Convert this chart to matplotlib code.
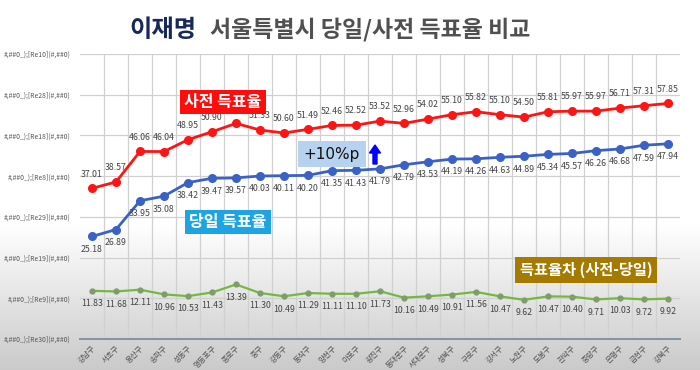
import numpy as np
import matplotlib
matplotlib.use("Agg")
import matplotlib.pyplot as plt

plt.rcParams["font.family"] = ["Noto Sans CJK KR", "DejaVu Sans"]

# 데이터
districts = ["강남구", "서초구", "용산구", "송파구", "성동구", "영등포구", "종로구", "중구",
             "강동구", "동작구", "양천구", "마포구", "광진구", "동대문구", "서대문구", "성북구",
             "구로구", "강서구", "노원구", "도봉구", "관악구", "중랑구", "은평구", "금천구", "강북구"]
early = [37.01, 38.57, 46.06, 46.04, 48.95, 50.90, 52.96, 51.33, 50.60, 51.49, 52.46, 52.52,
         53.52, 52.96, 54.02, 55.10, 55.82, 55.10, 54.50, 55.81, 55.97, 55.97, 56.71, 57.31, 57.85]
sameday = [25.18, 26.89, 33.95, 35.08, 38.42, 39.47, 39.57, 40.03, 40.11, 40.20, 41.35, 41.43,
           41.79, 42.79, 43.53, 44.19, 44.26, 44.63, 44.89, 45.34, 45.57, 46.26, 46.68, 47.59, 47.94]
diff = [11.83, 11.68, 12.11, 10.96, 10.53, 11.43, 13.39, 11.30, 10.49, 11.29, 11.11, 11.10,
        11.73, 10.16, 10.49, 10.91, 11.56, 10.47, 9.62, 10.47, 10.40, 9.71, 10.03, 9.72, 9.92]
y_ticks = [0, 10, 20, 30, 40, 50, 60, 70]
y_tick_labels = ["#,##0_);[Re30](#,##0)", "#,##0_);[Re9](#,##0)", "#,##0_);[Re19](#,##0)",
                 "#,##0_);[Re29](#,##0)", "#,##0_);[Re8](#,##0)", "#,##0_);[Re18](#,##0)",
                 "#,##0_);[Re28](#,##0)", "#,##0_);[Re10](#,##0)"]

W, H = 700, 370
fig = plt.figure(figsize=(7, 3.7), dpi=100)

# 배경 (아래쪽 회색 그라데이션)
bg = fig.add_axes([0, 0, 1, 1], zorder=-10)
rows = np.linspace(0, 1, 370)
shade = np.where(rows < 0.6, 1.0, 1.0 - (rows - 0.6) / 0.4 * 0.21)
bg.imshow(shade[:, None], cmap="gray", vmin=0, vmax=1, aspect="auto", extent=[0, 1, 0, 1])
bg.axis("off")

ax = fig.add_axes([80 / W, 31 / H, 600 / W, 285 / H])
ax.set_facecolor("none")
x = np.arange(len(districts))

ax.plot(x, early, color="#ff1414", lw=2, marker="o", ms=5.5, zorder=5)
ax.plot(x, sameday, color="#3a62c6", lw=2, marker="o", ms=5.5, zorder=5)
ax.plot(x, diff, color="#74b842", lw=1.6, marker="o", ms=3.5,
        mfc="#7f9c6c", mec="#7f9c6c", zorder=5)

lab_kw = dict(fontsize=6.3, color="#444444", ha="center", zorder=6)
for i in x:
    ax.annotate(f"{early[i]:.2f}", (i, early[i]), xytext=(0, 7), textcoords="offset points",
                va="bottom", **lab_kw)
    ax.annotate(f"{sameday[i]:.2f}", (i, sameday[i]), xytext=(0, -6), textcoords="offset points",
                va="top", **lab_kw)
    ax.annotate(f"{diff[i]:.2f}", (i, diff[i]), xytext=(0, -6), textcoords="offset points",
                va="top", **lab_kw)

ax.set_xlim(-0.5, len(districts) - 0.5)
ax.set_ylim(0, 70)
ax.set_yticks(y_ticks)
ax.set_yticklabels(y_tick_labels, fontsize=4.9, color="#555555")
ax.set_xticks(x)
ax.set_xticklabels(districts, rotation=45, ha="right", rotation_mode="anchor",
                   fontsize=5.5, color="#555555")
ax.set_xticks(np.arange(0.5, len(districts) - 0.5, 1), minor=True)
ax.tick_params(axis="both", which="both", length=0)
ax.tick_params(axis="x", pad=4)
ax.tick_params(axis="y", pad=7)
ax.grid(axis="y", which="major", color="#d0d0d0", lw=0.9)
ax.grid(axis="x", which="minor", color="#d0d0d0", lw=0.9)
for s in ["top", "right", "left"]:
    ax.spines[s].set_visible(False)
ax.spines["bottom"].set_color("#7f93aa")
ax.spines["bottom"].set_linewidth(1.4)

# 제목
fig.text(196 / W, 1 - 30 / H, "이재명", fontsize=17.5, fontweight="bold", color="#16295a",
         ha="right", va="center")
fig.text(210 / W, 1 - 30 / H, "서울특별시 당일/사전 득표율 비교", fontsize=16.5, fontweight="bold",
         color="#505050", ha="left", va="center")

# 설명 상자
fig.text(223 / W, 1 - 102 / H, "사전 득표율", fontsize=11.5, fontweight="bold", color="white",
         ha="center", va="center", zorder=10,
         bbox=dict(boxstyle="square,pad=0.25", fc="#ff0d0d", ec="none"))
fig.text(228 / W, 1 - 222 / H, "당일 득표율", fontsize=11.5, fontweight="bold", color="white",
         ha="center", va="center", zorder=10,
         bbox=dict(boxstyle="square,pad=0.25", fc="#1ea3e3", ec="none"))
fig.text(332 / W, 1 - 154 / H, "+10%p", fontsize=11, color="#111111",
         ha="center", va="center", family=["DejaVu Sans"], zorder=10,
         bbox=dict(boxstyle="square,pad=0.35", fc="#b7d2ee", ec="none"))
fig.add_artist(matplotlib.patches.FancyArrow(375 / W, 1 - 164 / H, 0, 19 / H, width=4 / W,
                                             head_width=11 / W, head_length=8 / H,
                                             length_includes_head=True, color="#0000ff",
                                             transform=fig.transFigure))
fig.text(586 / W, 1 - 270 / H, "득표율차 (사전-당일)", fontsize=11, fontweight="bold",
         color="white", ha="center", va="center", zorder=10,
         bbox=dict(boxstyle="square,pad=0.3", fc="#a57a00", ec="none"))

fig.savefig("out.png", dpi=100)
